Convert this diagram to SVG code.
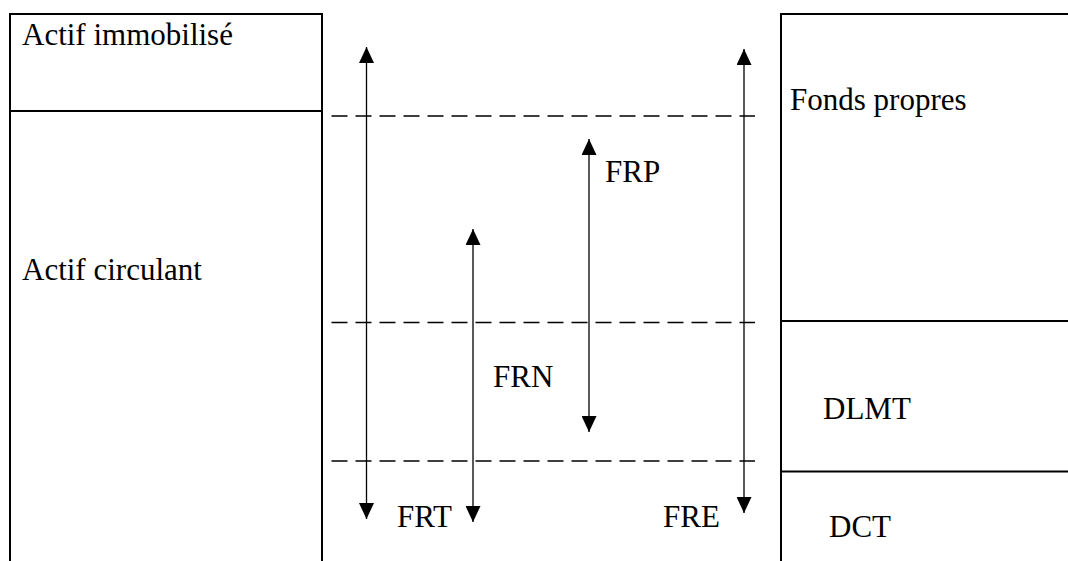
<svg xmlns="http://www.w3.org/2000/svg" width="1068" height="561" viewBox="0 0 1068 561">
<style>
.box{fill:none;stroke:#000;stroke-width:2}
.lbl{font-family:'Liberation Serif','Times New Roman','DejaVu Serif',serif;font-size:31px;fill:#000}
.dash{stroke:#000;stroke-width:1.3;stroke-dasharray:16 8;fill:none}
.arr{stroke:#000;stroke-width:1.3;fill:none;marker-start:url(#ah);marker-end:url(#ah)}
</style>
<defs>
<marker id="ah" viewBox="0 0 16 15" refX="16" refY="7.5" markerWidth="16" markerHeight="15" markerUnits="userSpaceOnUse" orient="auto-start-reverse">
<path d="M0,0 L16,7.5 L0,15 z" fill="#000"/>
</marker>
</defs>
<rect width="1068" height="561" fill="#fff"/>
<g id="actif">
<path class="box" d="M10,562 V14 H322 V562"/>
<line class="box" x1="10" y1="111" x2="322" y2="111"/>
<g id="actif-immobilise"><text class="lbl" font-family="Liberation Serif, serif" x="22" y="45">Actif immobilisé</text></g>
<g id="actif-circulant"><text class="lbl" font-family="Liberation Serif, serif" x="22" y="280">Actif circulant</text></g>
</g>
<g id="passif">
<path class="box" d="M781,562 V14 H1070"/>
<line class="box" x1="781" y1="321" x2="1070" y2="321"/>
<line class="box" x1="781" y1="471.5" x2="1070" y2="471.5"/>
<g id="fonds-propres"><text class="lbl" font-family="Liberation Serif, serif" x="790" y="110">Fonds propres</text></g>
<g id="dlmt"><text class="lbl" font-family="Liberation Serif, serif" x="823" y="419">DLMT</text></g>
<g id="dct"><text class="lbl" font-family="Liberation Serif, serif" x="829" y="537">DCT</text></g>
</g>
<g id="connectors">
<line class="dash" x1="331.5" y1="116" x2="755" y2="116"/>
<line class="dash" x1="331.5" y1="322.5" x2="755" y2="322.5"/>
<line class="dash" x1="331.5" y1="461" x2="755" y2="461"/>
<line class="arr" x1="366.5" y1="47" x2="366.5" y2="519"/>
<line class="arr" x1="473" y1="229" x2="473" y2="522"/>
<line class="arr" x1="589" y1="139" x2="589" y2="432"/>
<line class="arr" x1="744" y1="49" x2="744" y2="513"/>
</g>
<g id="labels">
<text class="lbl" font-family="Liberation Serif, serif" x="397" y="527">FRT</text>
<text class="lbl" font-family="Liberation Serif, serif" x="493" y="387">FRN</text>
<text class="lbl" font-family="Liberation Serif, serif" x="605" y="182">FRP</text>
<text class="lbl" font-family="Liberation Serif, serif" x="663" y="527">FRE</text>
</g>
</svg>
